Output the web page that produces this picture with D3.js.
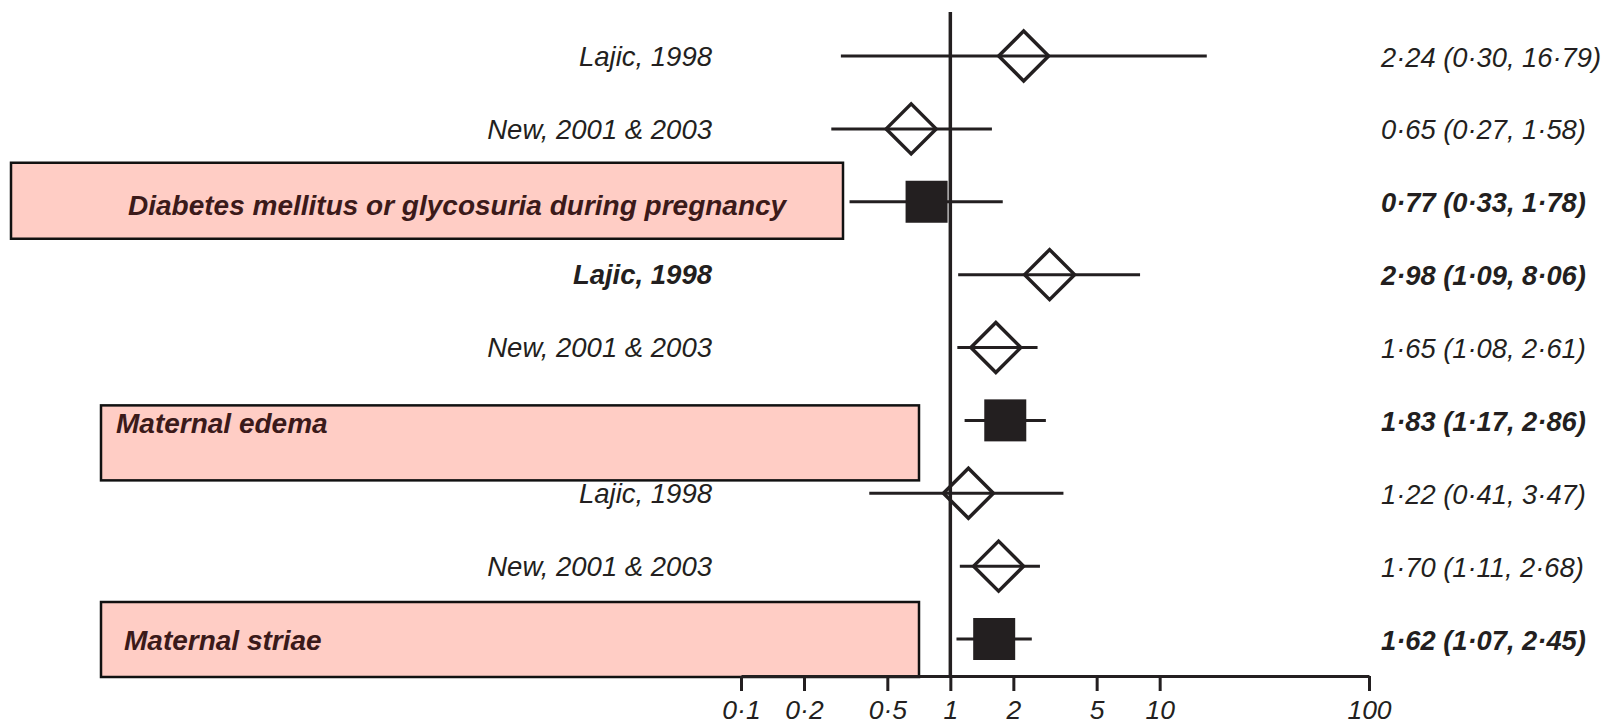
<!DOCTYPE html>
<html>
<head>
<meta charset="utf-8">
<script src="https://cdn.jsdelivr.net/npm/d3@7"></script>
<style>
  html, body { margin: 0; padding: 0; background: #fff; }
  svg { display: block; }
  text { font-family: "Liberation Sans", Arial, Helvetica, sans-serif; font-style: italic; }
</style>
</head>
<body>
<svg id="chart" width="1606" height="725"></svg>
<script>
// Forest plot rows: individual studies and pooled estimates (odds ratios, 95% CI)
const rowLabels = [
  "Lajic, 1998",
  "New, 2001 & 2003",
  "Diabetes mellitus or glycosuria during pregnancy",
  "Lajic, 1998",
  "New, 2001 & 2003",
  "Maternal edema",
  "Lajic, 1998",
  "New, 2001 & 2003",
  "Maternal striae"
];
const oddsRatio = [2.24, 0.65, 0.77, 2.98, 1.65, 1.83, 1.22, 1.70, 1.62];
const ciLower   = [0.30, 0.27, 0.33, 1.09, 1.08, 1.17, 0.41, 1.11, 1.07];
const ciUpper   = [16.79, 1.58, 1.78, 8.06, 2.61, 2.86, 3.47, 2.68, 2.45];
const rowKind   = ["study", "study", "pooled", "study", "study", "pooled", "study", "study", "pooled"];
const rowBold   = [false, false, true, true, false, true, false, false, true];
const tickValues = [0.1, 0.2, 0.5, 1, 2, 5, 10, 100];

const ink = "#231f20";
const rows = rowLabels.map((label, i) => ({
  i, label, or: oddsRatio[i], lo: ciLower[i], hi: ciUpper[i],
  kind: rowKind[i], bold: rowBold[i]
}));

// Highlight panels behind the pooled-estimate labels (left, right, top offset, bottom offset, text x)
const panels = {
  2: { x0: 11,  x1: 843, top: -39, bottom: 37, textX: 128, textDy: 3 },
  5: { x0: 101, x1: 919, top: -15, bottom: 60, textX: 116, textDy: 3 },
  8: { x0: 101, x1: 919, top: -37, bottom: 38, textX: 124, textDy: 1 }
};

const svg = d3.select("#chart");

const x = d3.scaleLog().domain([0.1, 100]).range([741, 1369]);
const y = d3.scalePoint().domain(d3.range(rows.length)).range([56, 639]);
const axisY = 676;
const fmt = v => v.toFixed(2).replace(".", "\u00b7");

// Pink panels
const pooled = rows.filter(r => r.kind === "pooled");
svg.append("g").selectAll("rect")
  .data(pooled)
  .join("rect")
  .attr("x", d => panels[d.i].x0)
  .attr("y", d => y(d.i) + panels[d.i].top)
  .attr("width", d => panels[d.i].x1 - panels[d.i].x0)
  .attr("height", d => panels[d.i].bottom - panels[d.i].top)
  .attr("fill", "#ffcdc5")
  .attr("stroke", "#111")
  .attr("stroke-width", 2.5);

// Line of no effect
svg.append("line")
  .attr("x1", x(1)).attr("x2", x(1))
  .attr("y1", 12).attr("y2", axisY)
  .attr("stroke", ink).attr("stroke-width", 3.5);

// Confidence intervals
svg.append("g").selectAll("line")
  .data(rows)
  .join("line")
  .attr("x1", d => x(d.lo)).attr("x2", d => x(d.hi))
  .attr("y1", d => y(d.i)).attr("y2", d => y(d.i))
  .attr("stroke", ink).attr("stroke-width", 3);

// Study estimates: open diamonds
const half = 25;
svg.append("g").selectAll("path")
  .data(rows.filter(r => r.kind === "study"))
  .join("path")
  .attr("d", d => {
    const cx = x(d.or), cy = y(d.i);
    return `M${cx - half},${cy}L${cx},${cy - half}L${cx + half},${cy}L${cx},${cy + half}Z`;
  })
  .attr("fill", "none")
  .attr("stroke", ink)
  .attr("stroke-width", 3.5);

// Pooled estimates: filled squares
const sq = 42;
svg.append("g").selectAll("rect")
  .data(pooled)
  .join("rect")
  .attr("x", d => x(d.or) - sq / 2)
  .attr("y", d => y(d.i) - sq / 2)
  .attr("width", sq).attr("height", sq)
  .attr("fill", ink);

// Study labels (right-aligned) and pooled labels (inside panels)
svg.append("g").selectAll("text")
  .data(rows)
  .join("text")
  .attr("x", d => d.kind === "pooled" ? panels[d.i].textX : 712)
  .attr("y", d => y(d.i) + (d.kind === "pooled" ? panels[d.i].textDy : 0))
  .attr("dy", "0.35em")
  .attr("text-anchor", d => d.kind === "pooled" ? "start" : "end")
  .attr("font-size", d => d.kind === "pooled" ? 28 : 27.5)
  .attr("font-weight", d => d.bold ? "bold" : "normal")
  .attr("fill", d => d.kind === "pooled" ? "#3b1a1a" : ink)
  .text(d => d.label);

// Estimate and interval text
svg.append("g").selectAll("text")
  .data(rows)
  .join("text")
  .attr("x", 1381)
  .attr("y", d => y(d.i) + 1)
  .attr("dy", "0.35em")
  .attr("font-size", 27.3)
  .attr("font-weight", d => d.bold ? "bold" : "normal")
  .attr("fill", ink)
  .text(d => `${fmt(d.or)} (${fmt(d.lo)}, ${fmt(d.hi)})`);

// Log-scale axis
const axis = svg.append("g")
  .attr("transform", `translate(0,${axisY})`)
  .attr("color", ink)
  .call(d3.axisBottom(x)
    .tickValues(tickValues)
    .tickFormat(d => String(d).replace(".", "\u00b7"))
    .tickSize(15)
    .tickSizeOuter(0));
axis.attr("font-family", null).attr("font-size", null);
axis.select(".domain").attr("stroke-width", 3);
axis.selectAll(".tick line").attr("stroke-width", 3);
axis.selectAll(".tick text")
  .attr("y", 24)
  .attr("font-size", 26.5)
  .attr("fill", ink);
</script>
</body>
</html>
